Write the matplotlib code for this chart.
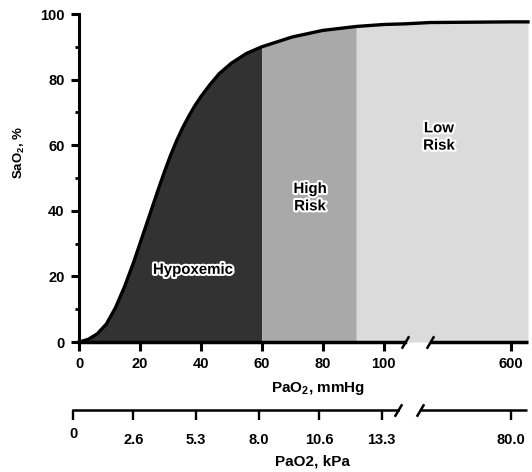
import numpy as np
import matplotlib
matplotlib.use("Agg")
import matplotlib.pyplot as plt
import matplotlib.patheffects as pe
import matplotlib.transforms as mtransforms

plt.rcParams["font.family"] = ["Liberation Sans", "DejaVu Sans"]
plt.rcParams["mathtext.fontset"] = "custom"
plt.rcParams["mathtext.rm"] = "Liberation Sans"
plt.rcParams["mathtext.bf"] = "Liberation Sans:bold"

# oxygen dissociation curve
pao2 = np.array([0, 3, 6, 9, 12, 15, 18, 20, 22, 24, 26, 28, 30, 32, 34, 36, 38, 40, 43, 46,
                 50, 55, 60, 70, 80, 91, 100, 107, 500, 600, 621])
sao2 = np.array([0, 0.8, 2.5, 5.5, 10.5, 17, 24.5, 30, 35.5, 41, 46.5, 51.8, 56.8, 61.3, 65.3,
                 68.8, 72, 74.8, 78.5, 81.8, 85, 88, 90, 93, 95, 96.2, 96.8, 97.0, 97.4, 97.6, 97.6])

zone_edges = [60, 91]
zone_colors = ["#323232", "#a9a9a9", "#dbdbdb"]
zone_labels = ["Hypoxemic", "High\nRisk", "Low\nRisk"]
zone_label_pos = [(37.4, 22), (75.8, 44), (511, 62.5)]

mmhg_ticks = [0, 20, 40, 60, 80, 100, 600]
kpa_ticks = [0, 2.6, 5.3, 8.0, 10.6, 13.3, 80.0]
kpa_labels = ["0", "2.6", "5.3", "8.0", "10.6", "13.3", "80.0"]

# broken axis: piecewise linear scales
mm_xp = [-100, 107, 500, 10000]
mm_fp = [-100, 107, 115.2, 115.2 + 9500 * 0.81 / 3.048]
kp_xp = [-10, 14.0, 65.4, 1000]
kp_fp = [-10, 14.0, 14.948, 14.948 + (1000 - 65.4) * 6.25 / 23.2]


def piecewise(xp, fp):
    fwd = lambda x: np.interp(x, xp, fp)
    inv = lambda y: np.interp(y, fp, xp)
    return fwd, inv


fig = plt.figure(figsize=(5.32, 4.72), dpi=100)
ax = fig.add_axes([79 / 532, 1 - 342 / 472, 449 / 532, 328 / 472])
ax.set_xscale("function", functions=piecewise(mm_xp, mm_fp))
ax.set_xlim(0, 621)
ax.set_ylim(0, 100)

ax.fill_between(pao2, sao2, where=pao2 <= zone_edges[0], color=zone_colors[0], lw=0)
ax.fill_between(pao2, sao2, where=(pao2 >= zone_edges[0]) & (pao2 <= zone_edges[1]), color=zone_colors[1], lw=0)
ax.fill_between(pao2, sao2, where=pao2 >= zone_edges[1], color=zone_colors[2], lw=0)
ax.plot(pao2, sao2, color="black", lw=2.4, clip_on=False, zorder=3, solid_joinstyle="round")

halo = [pe.withStroke(linewidth=3, foreground="white")]
for lab, (tx, ty) in zip(zone_labels, zone_label_pos):
    ax.text(tx, ty, lab, ha="center", va="center", fontsize=10.8, fontweight="bold",
            linespacing=1.3, path_effects=halo, zorder=4)

for s in ["top", "right"]:
    ax.spines[s].set_visible(False)
ax.spines["left"].set_linewidth(2.2)
ax.spines["bottom"].set_linewidth(2.5)
ax.spines["bottom"].set_bounds(0, 107)
ax.plot([500, 621], [0, 0], transform=ax.get_xaxis_transform(), color="black", lw=2.5,
        clip_on=False, solid_capstyle="butt")
ax.plot([107, 500], [0, 0], transform=ax.get_xaxis_transform(), ls="none",
        marker=[(-1, -1.7), (1, 1.7)], ms=9, mew=1.8, color="black", clip_on=False)

ax.set_xticks(mmhg_ticks)
ax.set_xticklabels([str(t) for t in mmhg_ticks])
ax.set_yticks(range(0, 101, 20))
ax.set_yticks(range(10, 100, 20), minor=True)
ax.tick_params(axis="x", length=6.5, width=2.2, pad=4, labelsize=10.5)
ax.tick_params(axis="y", which="major", length=6, width=2.2, pad=4.5, labelsize=10.5)
ax.tick_params(axis="y", which="minor", length=3, width=2)
for t in ax.get_xticklabels() + ax.get_yticklabels():
    t.set_fontweight("bold")

ax.set_ylabel(r"SaO$_\mathbf{2}$, %", fontsize=9.5, fontweight="bold")
ax.yaxis.set_label_coords(-0.116, 0.579)
ax.set_xlabel(r"PaO$_\mathbf{2}$, mmHg", fontsize=11, fontweight="bold")
ax.xaxis.set_label_coords(0.532, -0.116)

# second x axis in kPa
kax = fig.add_axes([73 / 532, 1 - 410 / 472, 454 / 532, 0.01])
kax.set_xscale("function", functions=piecewise(kp_xp, kp_fp))
kax.set_xlim(0, 82.56)
kax.patch.set_visible(False)
kax.set_yticks([])
for s in ["top", "right", "left"]:
    kax.spines[s].set_visible(False)
kax.spines["bottom"].set_linewidth(1.8)
kax.spines["bottom"].set_bounds(0, 14.0)
kax.plot([65.4, 82.56], [0, 0], transform=kax.get_xaxis_transform(), color="black", lw=1.8,
         clip_on=False, solid_capstyle="butt")
kax.plot([14.0, 65.4], [0, 0], transform=kax.get_xaxis_transform(), ls="none",
         marker=[(-1, -1.7), (1, 1.7)], ms=9, mew=1.8, color="black", clip_on=False)
kax.set_xticks(kpa_ticks)
kax.set_xticklabels(kpa_labels)
kax.tick_params(axis="x", length=7.5, width=1.7, pad=9, labelsize=10.5)
for t in kax.get_xticklabels():
    t.set_fontweight("bold")
# the "0" label sits a little higher in the original
zero_lab = kax.get_xticklabels()[0]
zero_lab.set_transform(zero_lab.get_transform() + mtransforms.ScaledTranslation(0, 0.06, fig.dpi_scale_trans))

fig.text(312 / 532, 1 - 462 / 472, "PaO2, kPa", ha="center", va="center", fontsize=11, fontweight="bold")

fig.savefig("out.png", dpi=100)
